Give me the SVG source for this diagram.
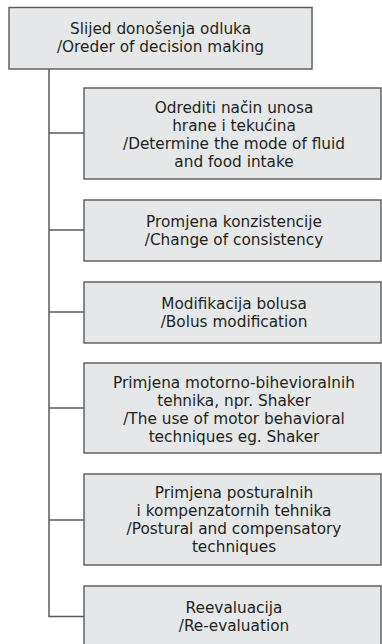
<svg xmlns="http://www.w3.org/2000/svg" width="382" height="644" viewBox="0 0 382 644">
<style>
.box{fill:#e6e7e8;stroke:#58595b;stroke-width:1.4}
.t{font-family:"DejaVu Sans","Liberation Sans",Arial,sans-serif;font-size:15.3px;fill:#231f20;text-anchor:middle}
.c{fill:none;stroke:#58595b;stroke-width:1.5}
</style>
<rect width="382" height="644" fill="#ffffff"/>
<g id="connectors">
<path class="c" d="M49,69 V616.5 H84"/>
<path class="c" d="M49,133 H84 M49,230 H84 M49,312 H84 M49,408 H84 M49,520 H84"/>
</g>
<g id="root">
<rect class="box" x="9" y="7.5" width="303" height="61.5"/>
<text class="t" x="160.5" y="34">Slijed donošenja odluka</text>
<text class="t" x="160.5" y="52">/Oreder of decision making</text>
</g>
<g id="n1">
<rect class="box" x="84" y="88" width="297" height="91"/>
<text class="t" x="234" y="112.5">Odrediti način unosa</text>
<text class="t" x="234" y="130.5">hrane i tekućina</text>
<text class="t" x="234" y="148.5">/Determine the mode of fluid</text>
<text class="t" x="234" y="166.5">and food intake</text>
</g>
<g id="n2">
<rect class="box" x="84" y="200" width="297" height="61"/>
<text class="t" x="234" y="226.5">Promjena konzistencije</text>
<text class="t" x="234" y="244.5">/Change of consistency</text>
</g>
<g id="n3">
<rect class="box" x="84" y="282" width="297" height="61"/>
<text class="t" x="234" y="308.5">Modifikacija bolusa</text>
<text class="t" x="234" y="326.5">/Bolus modification</text>
</g>
<g id="n4">
<rect class="box" x="84" y="363" width="297" height="90"/>
<text class="t" x="234" y="387.5">Primjena motorno-bihevioralnih</text>
<text class="t" x="234" y="405.5">tehnika, npr. Shaker</text>
<text class="t" x="234" y="423.5">/The use of motor behavioral</text>
<text class="t" x="234" y="441.5">techniques eg. Shaker</text>
</g>
<g id="n5">
<rect class="box" x="84" y="474" width="297" height="91"/>
<text class="t" x="234" y="497.5">Primjena posturalnih</text>
<text class="t" x="234" y="515.5">i kompenzatornih tehnika</text>
<text class="t" x="234" y="533.5">/Postural and compensatory</text>
<text class="t" x="234" y="551.5">techniques</text>
</g>
<g id="n6">
<rect class="box" x="84" y="586" width="297" height="70"/>
<text class="t" x="234" y="612.5">Reevaluacija</text>
<text class="t" x="234" y="631">/Re-evaluation</text>
</g>
</svg>
